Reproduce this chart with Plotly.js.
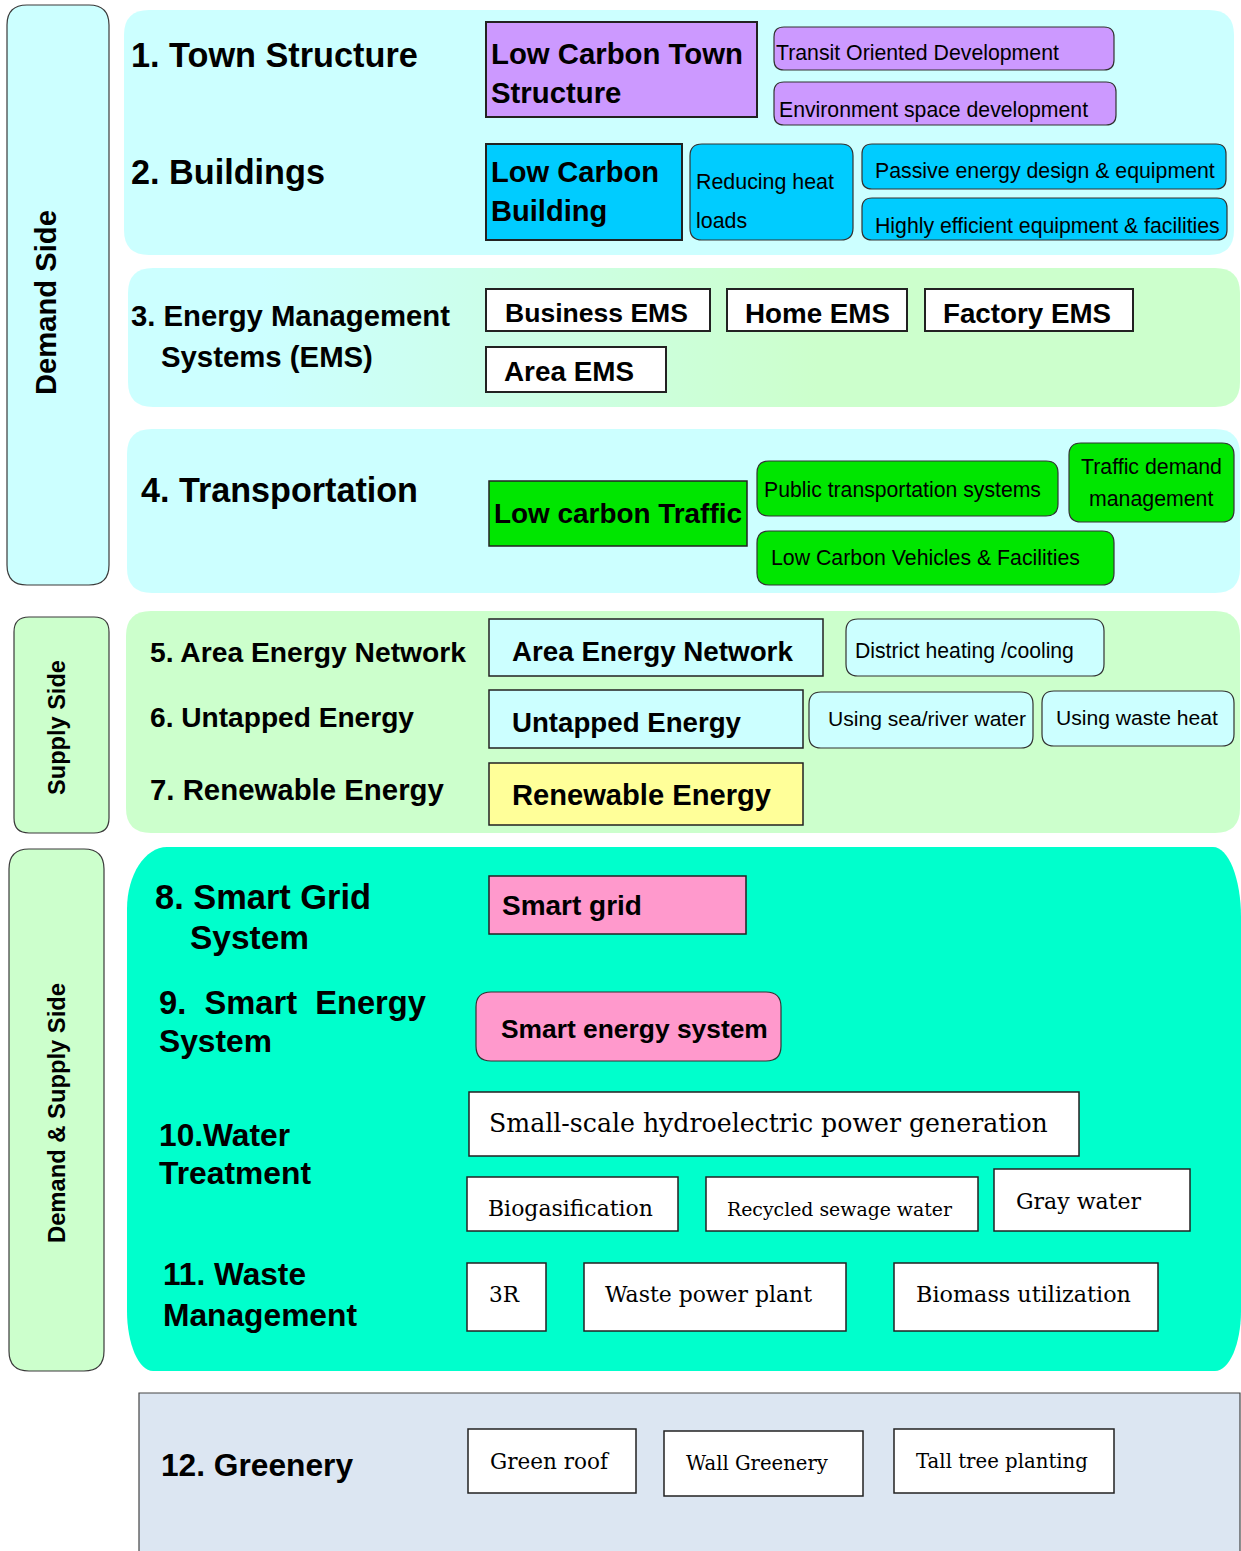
<!DOCTYPE html>
<html><head><meta charset="utf-8">
<script src="https://cdn.plot.ly/plotly-3.0.1.min.js"></script>
<style>html,body{margin:0;padding:0;background:#fff}#chart{width:1241px;height:1551px}</style>
</head><body><div id="chart"></div>
<script>
// ---------- content (text) ----------
const sideLabels = ["Demand Side", "Supply Side", "Demand & Supply Side"];
const sectionLines = ["1. Town Structure", "2. Buildings", "3. Energy Management", "Systems (EMS)",
  "4. Transportation", "5. Area Energy Network", "6. Untapped Energy", "7. Renewable Energy",
  "8. Smart Grid", "System", "9.\u00a0 Smart\u00a0 Energy", "System", "10.Water", "Treatment",
  "11. Waste", "Management", "12. Greenery"];
const itemLabels = [
  "Low Carbon Town\nStructure", "Transit Oriented Development", "Environment space development",
  "Low Carbon\nBuilding", "Reducing heat\nloads", "Passive energy design & equipment", "Highly efficient equipment & facilities",
  "Business EMS", "Home EMS", "Factory EMS", "Area EMS",
  "Low carbon Traffic", "Public transportation systems", "Traffic demand\nmanagement", "Low Carbon Vehicles & Facilities",
  "Area Energy Network", "District heating /cooling", "Untapped Energy", "Using sea/river water", "Using waste heat", "Renewable Energy",
  "Smart grid", "Smart energy system",
  "Small-scale hydroelectric power generation", "Biogasification", "Recycled sewage water", "Gray water",
  "3R", "Waste power plant", "Biomass utilization",
  "Green roof", "Wall Greenery", "Tall tree planting"
];

// ---------- layout geometry (pixel-space axes) ----------
const sideBoxes = [[7,5,109,585,20,"#ccffff"],[14,617,109,833,15,"#ccffcc"],[9,849,104,1371,20,"#ccffcc"]];
const sideText = [[46,303,185],[57,728,135],[56,1113,260]];           // centre x, centre y, text length
const panelBoxes = [[124,10,1234,255,25,"#ccffff"],[127,429,1240,593,25,"#ccffff"],[126,611,1240,833,25,"#ccffcc"]];
const gradPanel = [128,268,1240,407,25];
const smartPanel = [127,847,1241,1371];
const greenPanel = [139,1393,1240,1560];
const secPos = [[130,55],[130,172],[130,315],[160,356],[140,490],[149,652],[149,717],[149,789],
  [154,897],[189,937],[158,1002],[158,1041],[158,1135],[158,1173],[162,1274],[162,1315],[160,1465]];
const secTextW = [287,194,319,212,277,317,264,294,216,119,267,113,131,152,143,194,192];
const itemBox = [
 [486,22,757,117],[774,27,1114,70],[774,82,1116,125],
 [486,144,682,240],[690,144,853,240],[862,144,1226,189],[862,198,1227,240],
 [486,289,710,331],[727,289,907,331],[925,289,1133,331],[486,347,666,392],
 [489,481,747,546],[757,461,1058,516],[1069,443,1234,522],[757,531,1114,585],
 [489,619,823,676],[846,619,1104,676],[489,690,803,748],[809,692,1033,748],[1042,691,1234,746],[489,763,803,825],
 [489,876,746,934],[476,992,781,1061],
 [469,1092,1079,1156],[467,1177,678,1231],[706,1177,978,1231],[994,1169,1190,1231],
 [467,1263,546,1331],[584,1263,846,1331],[894,1263,1158,1331],
 [468,1429,636,1493],[664,1431,863,1496],[894,1429,1114,1493]
];
const itemFill = ["#cc99ff","#cc99ff","#cc99ff","#00ccff","#00ccff","#00ccff","#00ccff",
 "#ffffff","#ffffff","#ffffff","#ffffff","#00e600","#00e600","#00e600","#00e600",
 "#ccffff","#ccffff","#ccffff","#ccffff","#ccffff","#ffff99","#ff99cc","#ff99cc",
 "#ffffff","#ffffff","#ffffff","#ffffff","#ffffff","#ffffff","#ffffff","#ffffff","#ffffff","#ffffff"];
const itemRadius = [0,10,10,0,12,10,10, 0,0,0,0, 0,12,12,12, 0,12,0,12,12,0, 0,15, 0,0,0,0,0,0,0,0,0,0];
const itemLine = [2,1.2,1.2,2,1.2,1.2,1.2, 2,2,2,2, 1.5,1.2,1.2,1.2, 1.5,1.2,1.5,1.2,1.2,1.5, 1.5,1.2, 1.5,1.5,1.5,1.5,1.5,1.5,1.5,1.5,1.5,1.5];
const itemFont = ["b","r","r","b","r","r","r","b","b","b","b","b","r","r","r","b","r","b","r","r","b","b","b",
 "s","s","s","s","s","s","s","s","s","s"];
const itemTextW = [252,283,309,168,138,340,345, 183,145,168,130, 248,277,141,309, 281,219,229,198,162,259, 140,267,
 559,165,225,125,30,207,215,118,142,172];
const itemTX = [490,775,778,490,695,874,874, 596,817,1027,569, 493,763,1151,770, 511,854,511,827,1055,511, 501,500,
 488,487,726,1015,488,604,915,489,685,915];
const itemTY = [53,53,110,172,182,171,226, 313,313,313,371, 513,490,467,558, 651,651,722,718,717,795, 905,1029,
 1123,1208,1209,1201,1294,1294,1294,1461,1463,1461];
const itemCenter = [0,0,0,0,0,0,0, 1,1,1,1, 0,0,1,0, 0,0,0,0,0,0, 0,0, 0,0,0,0,0,0,0,0,0,0];
const itemGap = [39,0,0,39,39,0,0,0,0,0,0,0,0,32,0,0,0,0,0,0,0,0,0,0,0,0,0,0,0,0,0,0,0];

const SANS = "Liberation Sans, Arial, sans-serif";
const SERIF = "DejaVu Serif, serif";

const mctx = document.createElement('canvas').getContext('2d');
function fitSize(text, weight, family, targetW){
  mctx.font = `${weight} 100px ${family.split(',').map(f=>'"'+f.trim()+'"').join(',')}`;
  const w = mctx.measureText(text).width;
  return +(100*targetW/w).toFixed(2);
}

function rr(x0,y0,x1,y1,rx,ry){
  if(!rx) return `M${x0},${y0} L${x1},${y0} L${x1},${y1} L${x0},${y1} Z`;
  return `M${x0+rx},${y0} L${x1-rx},${y0} Q${x1},${y0} ${x1},${y0+ry} L${x1},${y1-ry} Q${x1},${y1} ${x1-rx},${y1} `+
         `L${x0+rx},${y1} Q${x0},${y1} ${x0},${y1-ry} L${x0},${y0+ry} Q${x0},${y0} ${x0+rx},${y0} Z`;
}
function rr4(x0,y0,x1,y1,c){
  const [tl,tr,br,bl]=c;
  return `M${x0+tl[0]},${y0} L${x1-tr[0]},${y0} C${x1-tr[0]*0.45},${y0} ${x1},${y0+tr[1]*0.45} ${x1},${y0+tr[1]} `+
   `L${x1},${y1-br[1]} C${x1},${y1-br[1]*0.45} ${x1-br[0]*0.45},${y1} ${x1-br[0]},${y1} `+
   `L${x0+bl[0]},${y1} C${x0+bl[0]*0.45},${y1} ${x0},${y1-bl[1]*0.45} ${x0},${y1-bl[1]} `+
   `L${x0},${y0+tl[1]} C${x0},${y0+tl[1]*0.45} ${x0+tl[0]*0.45},${y0} ${x0+tl[0]},${y0} Z`;
}
function gradientURL(w,h,r){
  const c=document.createElement('canvas'); c.width=w; c.height=h;
  const g=c.getContext('2d');
  const gr=g.createLinearGradient(0,0,w,0);
  gr.addColorStop(0,'#ccffff'); gr.addColorStop(0.12,'#ccffff'); gr.addColorStop(0.62,'#ccffcc'); gr.addColorStop(1,'#ccffcc');
  g.fillStyle=gr;
  g.beginPath(); g.moveTo(r,0); g.lineTo(w-r,0); g.quadraticCurveTo(w,0,w,r); g.lineTo(w,h-r); g.quadraticCurveTo(w,h,w-r,h);
  g.lineTo(r,h); g.quadraticCurveTo(0,h,0,h-r); g.lineTo(0,r); g.quadraticCurveTo(0,0,r,0); g.closePath(); g.fill();
  return c.toDataURL();
}

const shapes=[], annotations=[];
function S(path, fill, lc, lw, layer){ shapes.push({type:'path', path, xref:'x', yref:'y', fillcolor:fill,
  line:{color:lc||'rgba(0,0,0,0)', width:lw||0}, layer:layer||'above'}); }
function A(text,x,y,size,weight,family,xanchor,angle){ annotations.push({text, x, y, xref:'x', yref:'y', showarrow:false,
  xanchor:xanchor||'left', yanchor:'middle', borderpad:0, textangle:angle||0,
  font:{family:family||SANS, size, color:'#000', weight:weight||400}}); }

sideBoxes.forEach((b,i)=>{ S(rr(b[0],b[1],b[2],b[3],b[4],b[4]), b[5], '#3a3a3a', 1.2);
  A(sideLabels[i], sideText[i][0], sideText[i][1], fitSize(sideLabels[i],700,SANS,sideText[i][2]), 700, SANS, 'center', -90); });
panelBoxes.forEach(b=>S(rr(b[0],b[1],b[2],b[3],b[4],b[4]), b[5], null, 0, 'below'));
S(rr4(smartPanel[0],smartPanel[1],smartPanel[2],smartPanel[3],[[40,62],[28,70],[26,60],[26,60]]), '#00ffcc', null, 0, 'below');
S(rr(greenPanel[0],greenPanel[1],greenPanel[2],greenPanel[3],0,0), '#dce6f2', '#444', 1.2, 'below');
sectionLines.forEach((t,i)=>A(t, secPos[i][0], secPos[i][1], fitSize(t,700,SANS,secTextW[i]), 700));
itemLabels.forEach((lab,i)=>{
  const b=itemBox[i], r=itemRadius[i];
  S(rr(b[0],b[1],b[2],b[3],r,r), itemFill[i], r?'#333':'#222', itemLine[i]);
  const fam = itemFont[i]==='s'?SERIF:SANS, w = itemFont[i]==='b'?700:400;
  const lines = lab.split('\n');
  const size = fitSize(lines[0], w, fam, itemTextW[i]);
  lines.forEach((ln,k)=>A(ln, itemTX[i], itemTY[i]+k*itemGap[i], size, w, fam, itemCenter[i]?'center':'left'));
});

const layout = {
  width:1241, height:1551, margin:{l:0,r:0,t:0,b:0}, paper_bgcolor:'#fff', plot_bgcolor:'#fff', showlegend:false,
  xaxis:{range:[0,1241], visible:false, fixedrange:true},
  yaxis:{range:[1551,0], visible:false, fixedrange:true},
  shapes, annotations,
  images:[{source:gradientURL(gradPanel[2]-gradPanel[0], gradPanel[3]-gradPanel[1], gradPanel[4]), xref:'x', yref:'y',
    x:gradPanel[0], y:gradPanel[1], sizex:gradPanel[2]-gradPanel[0], sizey:gradPanel[3]-gradPanel[1],
    sizing:'stretch', xanchor:'left', yanchor:'top', layer:'below'}]
};
Plotly.newPlot('chart', [], layout, {staticPlot:true, displayModeBar:false});
</script></body></html>
